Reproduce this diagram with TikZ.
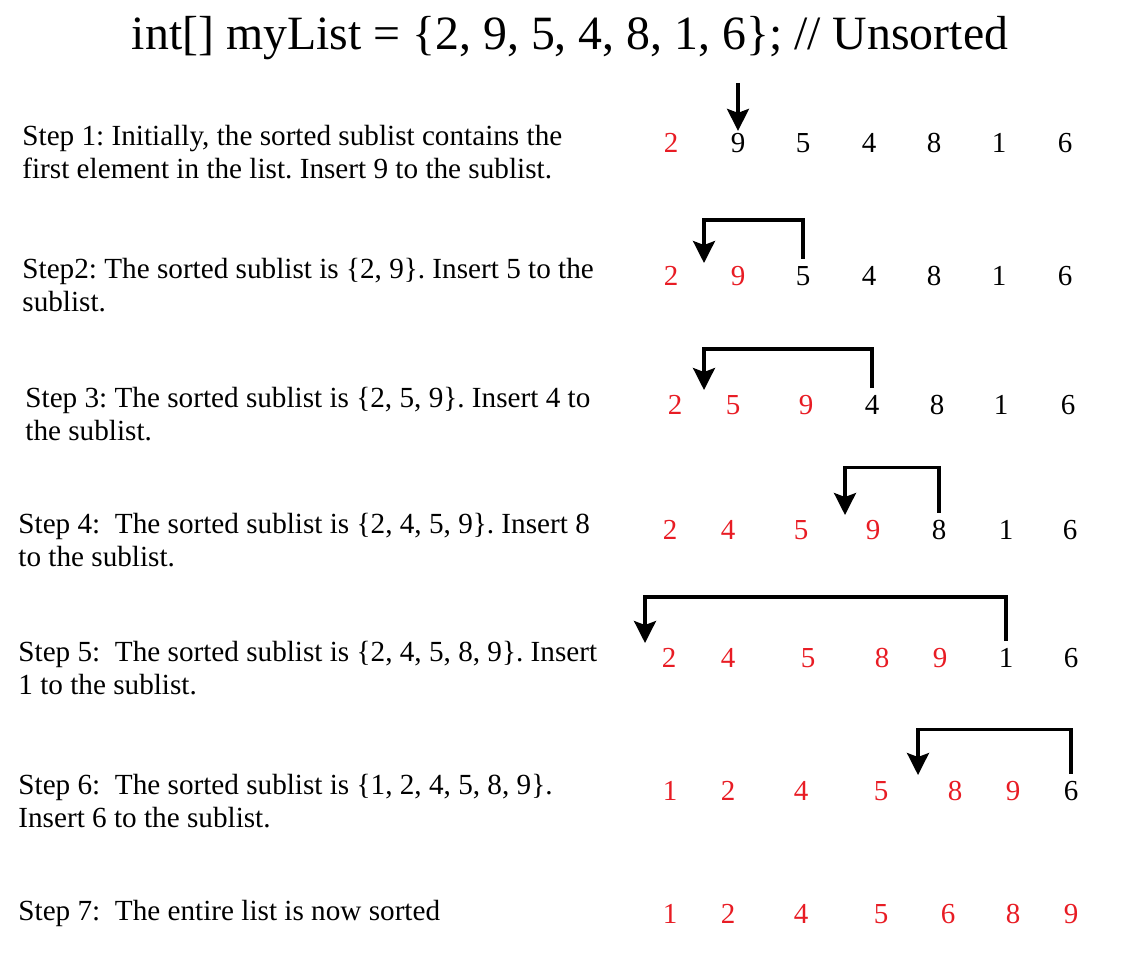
\documentclass[tikz,border=0pt]{standalone}
\usepackage{fontspec}
\setmainfont{Liberation Serif}
\usetikzlibrary{arrows.meta}
\definecolor{myred}{RGB}{232,28,36}
\frenchspacing
\begin{document}
\begin{tikzpicture}[x=0.5pt,y=-0.5pt,
  steptext/.style={anchor=west,align=left,inner sep=0pt,font=\fontsize{14.6}{16.6}\selectfont},
  num/.style={inner sep=1pt,font=\fontsize{14.5}{16}\selectfont},
  sorted/.style={num,text=myred},
  arr/.style={line width=1.6pt,-{Stealth[length=11pt,width=11pt,inset=2pt]}},
  barr/.style={arr,shorten <=2.5pt}]
\useasboundingbox (0,0) rectangle (1128,963);
\node[font=\fontsize{23.9}{28}\selectfont] (title) at (570,38) {int[] myList = \{2, 9, 5, 4, 8, 1, 6\}; // Unsorted};
% step texts
\node[steptext] (s1) at (22,152) {Step 1: Initially, the sorted sublist contains the\\first element in the list. Insert 9 to the sublist.};
\node[steptext] (s2) at (22,285) {Step2: The sorted sublist is \{2, 9\}. Insert 5 to the\\sublist.};
\node[steptext] (s3) at (25,414) {Step 3: The sorted sublist is \{2, 5, 9\}. Insert 4 to\\the sublist.};
\node[steptext] (s4) at (18,540) {Step 4:\ \ The sorted sublist is \{2, 4, 5, 9\}. Insert 8\\to the sublist.};
\node[steptext] (s5) at (18,668) {Step 5:\ \ The sorted sublist is \{2, 4, 5, 8, 9\}. Insert\\1\ to the sublist.};
\node[steptext] (s6) at (18,801) {Step 6:\ \ The sorted sublist is \{1, 2, 4, 5, 8, 9\}.\\Insert 6 to the sublist.};
\node[steptext] (s7) at (18,913) {Step 7:\ \ The entire list is now sorted};
% rows
\foreach \x/\v/\s [count=\i] in {671/2/sorted,738/9/num,803/5/num,869/4/num,934/8/num,999/1/num,1065/6/num}
  \node[\s] (r1c\i) at (\x,143) {\v};
\foreach \x/\v/\s [count=\i] in {671/2/sorted,738/9/sorted,803/5/num,869/4/num,934/8/num,999/1/num,1065/6/num}
  \node[\s] (r2c\i) at (\x,276) {\v};
\foreach \x/\v/\s [count=\i] in {675/2/sorted,733/5/sorted,806/9/sorted,872/4/num,937/8/num,1001/1/num,1068/6/num}
  \node[\s] (r3c\i) at (\x,405) {\v};
\foreach \x/\v/\s [count=\i] in {670/2/sorted,728/4/sorted,801/5/sorted,873/9/sorted,939/8/num,1006/1/num,1070/6/num}
  \node[\s] (r4c\i) at (\x,530) {\v};
\foreach \x/\v/\s [count=\i] in {669/2/sorted,728/4/sorted,808/5/sorted,882/8/sorted,940/9/sorted,1006/1/num,1071/6/num}
  \node[\s] (r5c\i) at (\x,658) {\v};
\foreach \x/\v/\s [count=\i] in {670/1/sorted,728/2/sorted,801/4/sorted,881/5/sorted,955/8/sorted,1013/9/sorted,1071/6/num}
  \node[\s] (r6c\i) at (\x,791) {\v};
\foreach \x/\v/\s [count=\i] in {670/1/sorted,728/2/sorted,801/4/sorted,881/5/sorted,948/6/sorted,1013/8/sorted,1071/9/sorted}
  \node[\s] (r7c\i) at (\x,914) {\v};
% arrows
\coordinate (a1) at (738,83);
\draw[arr] (a1) -- (r1c2.north);
\coordinate (t2) at (704,263);
\draw[barr] (r2c3.north) -- ++(0,-44) -| (t2);
\coordinate (t3) at (704,390);
\draw[barr] (r3c4.north) -- ++(0,-44) -| (t3);
\coordinate (t4) at (845,515);
\draw[barr] (r4c5.north) -- ++(0,-50) -| (t4);
\coordinate (t5) at (645,643);
\draw[barr] (r5c6.north) -- ++(0,-49) -| (t5);
\coordinate (t6) at (918,775);
\draw[barr] (r6c7.north) -- ++(0,-49) -| (t6);
\end{tikzpicture}
\end{document}
